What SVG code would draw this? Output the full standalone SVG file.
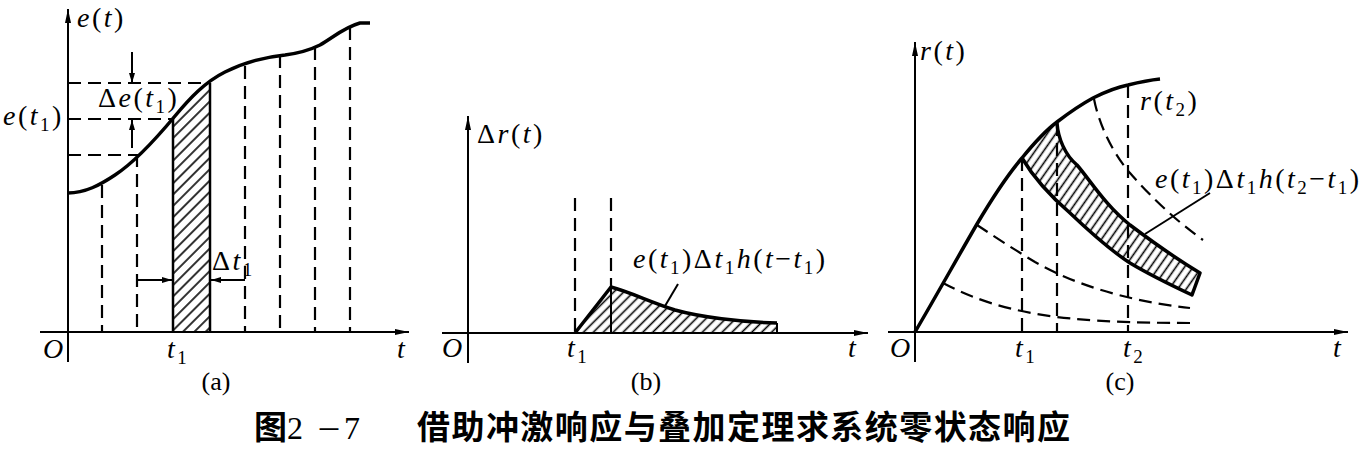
<svg xmlns="http://www.w3.org/2000/svg" width="1361" height="450" viewBox="0 0 1361 450">
<style>
.ax{stroke:#000;stroke-width:2;fill:none}
.thick{stroke:#000;stroke-width:3.5;fill:none;stroke-linejoin:round}
.dash{stroke:#000;stroke-width:2.2;fill:none;stroke-dasharray:13 7}
.m{font-family:"Liberation Serif",serif;font-style:italic;font-size:28px;letter-spacing:2.5px;fill:#000}
.u{font-style:normal}
.s{font-size:19px;font-style:normal}
.lab{font-family:"Liberation Serif",serif;font-size:26px;fill:#000;text-anchor:middle}
.cap{font-family:"Noto Sans CJK SC",sans-serif;font-weight:bold;font-size:33px;fill:#000}
</style>
<defs>
<marker id="ah" viewBox="0 0 14 6" refX="14" refY="3" markerWidth="14" markerHeight="6" markerUnits="userSpaceOnUse" orient="auto"><path d="M0,0 L14,3 L0,6 z" fill="#000"/></marker>
<marker id="sa" viewBox="0 0 10 6" refX="10" refY="3" markerWidth="10" markerHeight="6" markerUnits="userSpaceOnUse" orient="auto"><path d="M0,0 L10,3 L0,6 z" fill="#000"/></marker>
<pattern id="hA" width="8" height="8" patternUnits="userSpaceOnUse" patternTransform="rotate(45)"><line x1="4" y1="0" x2="4" y2="8" stroke="#000" stroke-width="1.6"/></pattern>
<pattern id="hB" width="7" height="7" patternUnits="userSpaceOnUse" patternTransform="rotate(45)"><line x1="3.5" y1="0" x2="3.5" y2="7" stroke="#000" stroke-width="1.6"/></pattern>
<pattern id="hC" width="7" height="7" patternUnits="userSpaceOnUse" patternTransform="rotate(35)"><line x1="3.5" y1="0" x2="3.5" y2="7" stroke="#000" stroke-width="1.6"/></pattern>
</defs>

<g id="panel-a">
<line class="ax" x1="68" y1="362" x2="68" y2="9" marker-end="url(#ah)"/>
<line class="ax" x1="40" y1="332" x2="409" y2="332" marker-end="url(#ah)"/>
<path d="M173,118 C185,106 198,92 210,83 L210,332 L173,332 Z" fill="url(#hA)"/>
<line x1="173" y1="118" x2="173" y2="332" stroke="#000" stroke-width="2.5"/>
<line x1="210" y1="83" x2="210" y2="332" stroke="#000" stroke-width="2.5"/>
<g>
<line class="dash" x1="102" y1="185" x2="102" y2="332"/>
<line class="dash" x1="137" y1="154" x2="137" y2="332"/>
<line class="dash" x1="245" y1="66" x2="245" y2="332"/>
<line class="dash" x1="280" y1="55" x2="280" y2="332"/>
<line class="dash" x1="315" y1="47" x2="315" y2="332"/>
<line class="dash" x1="350" y1="27" x2="350" y2="332"/>
<line class="dash" x1="68" y1="83" x2="210" y2="83"/>
<line class="dash" x1="68" y1="119" x2="173" y2="119"/>
<line class="dash" x1="68" y1="155" x2="137" y2="155"/>
</g>
<path class="thick" d="M68,193 C85,193 100,185 115,175 C135,162 160,134 175,116 C190,98 205,82 225,72 C245,62 265,57 285,55 C300,53 310,50 320,45 C335,36 345,27 360,23 L370,23"/>
<line class="ax" x1="132" y1="52" x2="132" y2="83" marker-end="url(#sa)"/>
<line class="ax" x1="132" y1="148" x2="132" y2="120" marker-end="url(#sa)"/>
<line class="ax" x1="137" y1="280" x2="172" y2="280" marker-end="url(#sa)"/>
<line class="ax" x1="245" y1="280" x2="211" y2="280" marker-end="url(#sa)"/>
<text class="m" x="77" y="27">e<tspan class="u">(</tspan>t<tspan class="u">)</tspan></text>
<text class="m" x="3" y="125">e<tspan class="u">(</tspan>t<tspan class="s" dy="6">1</tspan><tspan class="u" dy="-6">)</tspan></text>
<text class="m" x="98" y="107"><tspan class="u">Δ</tspan>e<tspan class="u">(</tspan>t<tspan class="s" dy="6">1</tspan><tspan class="u" dy="-6">)</tspan></text>
<text class="m" x="212" y="270"><tspan class="u">Δ</tspan>t<tspan class="s" dy="6">1</tspan></text>
<text class="m" x="43" y="358">O</text>
<text class="m" x="167" y="358">t<tspan class="s" dy="6">1</tspan></text>
<text class="m" x="397" y="358">t</text>
<text class="lab" x="216" y="390">(a)</text>
</g>

<g id="panel-b">
<line class="ax" x1="468" y1="363" x2="468" y2="116" marker-end="url(#ah)"/>
<line class="ax" x1="442" y1="333" x2="868" y2="333" marker-end="url(#ah)"/>
<path d="M575,333 L611,287 C630,292 650,302 675,310 C700,317 740,322 777,323 L777,333 Z" fill="url(#hB)"/>
<path class="thick" d="M575,333 L611,287 C630,292 650,302 675,310 C700,317 740,322 777,323"/>
<line x1="611" y1="287" x2="611" y2="333" stroke="#000" stroke-width="2"/>
<line x1="777" y1="323" x2="777" y2="333" stroke="#000" stroke-width="2"/>
<line class="dash" x1="575" y1="198" x2="575" y2="333"/>
<line class="dash" x1="611" y1="198" x2="611" y2="287"/>
<line class="ax" x1="678" y1="284" x2="665" y2="306"/>
<text class="m" x="477" y="143"><tspan class="u">Δ</tspan>r<tspan class="u">(</tspan>t<tspan class="u">)</tspan></text>
<text class="m" x="633" y="268" letter-spacing="1.2">e<tspan class="u">(</tspan>t<tspan class="s" dy="6">1</tspan><tspan class="u" dy="-6">)Δ</tspan>t<tspan class="s" dy="6">1</tspan><tspan dy="-6">h</tspan><tspan class="u">(</tspan>t<tspan class="u">−</tspan>t<tspan class="s" dy="6">1</tspan><tspan class="u" dy="-6">)</tspan></text>
<text class="m" x="442" y="357">O</text>
<text class="m" x="567" y="357">t<tspan class="s" dy="6">1</tspan></text>
<text class="m" x="848" y="357">t</text>
<text class="lab" x="646" y="390">(b)</text>
</g>

<g id="panel-c">
<line class="ax" x1="915" y1="362" x2="915" y2="42" marker-end="url(#ah)"/>
<line class="ax" x1="888" y1="332" x2="1348" y2="332" marker-end="url(#ah)"/>
<path d="M1022,158 C1035,143 1045,131 1057,123 C1058,138 1065,155 1077,165 C1090,180 1105,205 1130,225 C1150,240 1175,258 1200,273 L1192,295 C1175,287 1150,275 1130,263 C1110,250 1090,232 1070,213 C1055,200 1035,180 1022,158 Z" fill="url(#hC)"/>
<path class="thick" d="M1057,123 C1058,138 1065,155 1077,165 C1090,180 1105,205 1130,225 C1150,240 1175,258 1200,273 L1192,295 C1175,287 1150,275 1130,263 C1110,250 1090,232 1070,213 C1055,200 1035,180 1022,158"/>
<g>
<line class="dash" x1="1022" y1="158" x2="1022" y2="332"/>
<line class="dash" x1="1057" y1="123" x2="1057" y2="332"/>
<line class="dash" x1="1128" y1="85" x2="1128" y2="332"/>
<path class="dash" d="M943,283 C975,300 1010,311 1057,317 C1090,321 1130,323 1190,323"/>
<path class="dash" d="M977,225 C995,237 1015,250 1035,262 C1070,282 1120,300 1190,308"/>
<path class="dash" d="M1094,99 C1098,120 1110,150 1130,173 C1150,196 1175,220 1203,240"/>
</g>
<path class="thick" d="M915,332 C935,298 955,262 977,224 C990,202 1005,178 1022,158 C1035,142 1045,131 1057,122 C1070,112 1082,104 1093,98 C1105,92 1118,87 1128,85 C1140,82 1150,80 1160,79"/>
<line class="ax" x1="1210" y1="193" x2="1145" y2="234"/>
<text class="m" x="920" y="60">r<tspan class="u">(</tspan>t<tspan class="u">)</tspan></text>
<text class="m" x="1140" y="110">r<tspan class="u">(</tspan>t<tspan class="s" dy="6">2</tspan><tspan class="u" dy="-6">)</tspan></text>
<text class="m" x="1155" y="188" letter-spacing="0" font-size="27">e<tspan class="u">(</tspan>t<tspan class="s" dy="6">1</tspan><tspan class="u" dy="-6">)Δ</tspan>t<tspan class="s" dy="6">1</tspan><tspan dy="-6">h</tspan><tspan class="u">(</tspan>t<tspan class="s" dy="6">2</tspan><tspan class="u" dy="-6">−</tspan>t<tspan class="s" dy="6">1</tspan><tspan class="u" dy="-6">)</tspan></text>
<text class="m" x="890" y="357">O</text>
<text class="m" x="1015" y="357">t<tspan class="s" dy="6">1</tspan></text>
<text class="m" x="1123" y="357">t<tspan class="s" dy="6">2</tspan></text>
<text class="m" x="1333" y="357">t</text>
<text class="lab" x="1120" y="390">(c)</text>
</g>

<g id="caption">
<text class="cap" x="254" y="439" font-size="29">图</text>
<text x="287" y="439" font-family="Liberation Serif, serif" font-size="32">2</text>
<text x="316" y="439" font-family="Noto Sans CJK SC, sans-serif" font-size="26">－</text>
<text x="344" y="439" font-family="Liberation Serif, serif" font-size="32">7</text>
<text class="cap" x="417" y="439" textLength="653" lengthAdjust="spacing">借助冲激响应与叠加定理求系统零状态响应</text>
</g>
</svg>
